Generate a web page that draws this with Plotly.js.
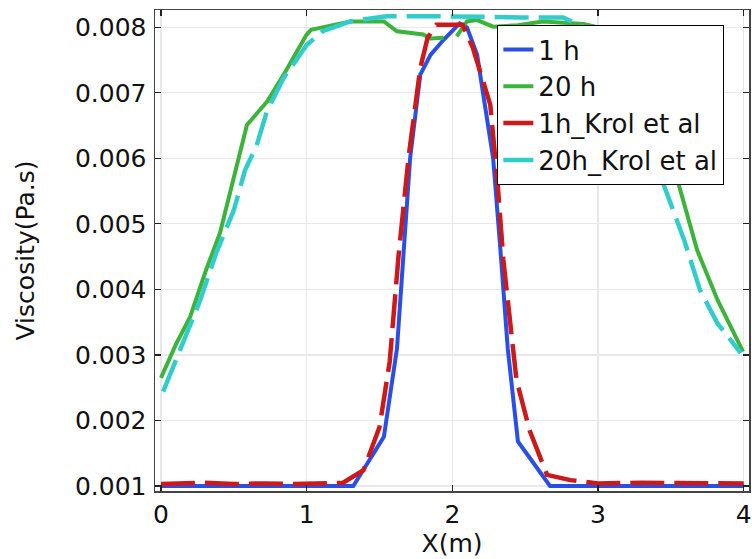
<!DOCTYPE html>
<html>
<head>
<meta charset="utf-8">
<script src="https://cdn.plot.ly/plotly-3.0.1.min.js"></script>
<style>html,body{margin:0;padding:0;background:#fff;}#chart{width:752px;height:559px;}</style>
</head>
<body>
<div id="chart"></div>
<script>
// 1 h (model)
const x1h = [0, 0.5, 1.0, 1.32, 1.53, 1.62, 1.71, 1.78, 1.85, 1.94, 2.05, 2.1, 2.17, 2.28, 2.33, 2.38, 2.45, 2.67, 3.0, 3.5, 4.0];
const y1h = [0.001, 0.001, 0.001, 0.001, 0.00175, 0.0031, 0.0060, 0.00728, 0.00758, 0.00781, 0.00806, 0.0080, 0.00758, 0.0060, 0.0046, 0.0031, 0.00168, 0.001, 0.001, 0.001, 0.001];

// 20 h (model)
const x20h = [0, 0.1, 0.2, 0.31, 0.405, 0.51, 0.59, 0.73, 0.84, 1.0, 1.03, 1.30, 1.53, 1.62, 1.80, 1.85, 1.94, 1.99, 2.03, 2.1, 2.17, 2.28, 2.45, 2.62, 2.9, 3.0, 3.2, 3.4, 3.55, 3.68, 3.82, 3.995];
const y20h = [0.00265, 0.00315, 0.00358, 0.0043, 0.00486, 0.0058, 0.00651, 0.00687, 0.00727, 0.00789, 0.00796, 0.00809, 0.00809, 0.00794, 0.00789, 0.00783, 0.00784, null, 0.00786, 0.00809, 0.00811, 0.00801, 0.00803, 0.00809, 0.00805, 0.0080, 0.0075, 0.0066, 0.00563, 0.0046, 0.00384, 0.00305];

// 1h_Krol et al
const x1hK = [0, 0.1, 0.3, 0.5, 0.7, 0.9, 1.1, 1.25, 1.39, 1.50, 1.57, 1.63, 1.70, 1.78, 1.83, 1.89, 2.07, 2.14, 2.26, 2.31, 2.35, 2.41, 2.44, 2.53, 2.65, 2.81, 3.0, 3.3, 3.6, 4.0];
const y1hK = [0.00103, 0.00104, 0.00105, 0.00103, 0.00104, 0.00103, 0.00104, 0.00105, 0.00124, 0.0019, 0.0029, 0.0045, 0.00603, 0.00738, 0.00784, 0.00804, 0.00804, 0.00769, 0.00682, 0.00563, 0.00445, 0.00323, 0.00262, 0.00185, 0.00117, 0.00109, 0.00104, 0.00105, 0.00104, 0.00104];

// 20h_Krol et al
const x20hK = [0.015, 0.085, 0.153, 0.27, 0.38, 0.50, 0.577, 0.657, 0.726, 0.84, 1.0, 1.11, 1.30, 1.55, 1.8, 2.0, 2.2, 2.47, 2.76, 3.0, 3.16, 3.3, 3.45, 3.59, 3.70, 3.82, 3.98];
const y20hK = [0.00244, 0.00282, 0.00318, 0.00384, 0.00456, 0.00521, 0.00582, 0.0062, 0.00671, 0.00722, 0.00773, 0.00794, 0.00809, 0.00817, 0.00817, 0.00817, 0.00816, 0.00815, 0.00815, 0.0079, 0.0073, 0.0065, 0.00562, 0.00476, 0.00399, 0.00348, 0.00303];

const names = ['1 h', '20 h', '1h_Krol et al', '20h_Krol et al'];
const xTicks = [0, 1, 2, 3, 4];
const yTicks = [0.001, 0.002, 0.003, 0.004, 0.005, 0.006, 0.007, 0.008];

const font = "DejaVu Sans, sans-serif";

const traces = [
  {x: x1h, y: y1h, name: names[0], mode: 'lines', line: {color: '#2a4fe6', width: 4}},
  {x: x20h, y: y20h, name: names[1], mode: 'lines', connectgaps: false, line: {color: '#3cb43c', width: 4}},
  {x: x1hK, y: y1hK, name: names[2], mode: 'lines', line: {color: '#cc1a1a', width: 4.5, dash: '34px,10px'}},
  {x: x20hK, y: y20hK, name: names[3], mode: 'lines', line: {color: '#33cccc', width: 4.5, dash: '34px,10px'}}
];

const axisCommon = {
  showline: true, mirror: 'ticks', linecolor: '#444', linewidth: 1.5,
  ticks: 'inside', ticklen: 6, tickwidth: 1.2, tickcolor: '#222',
  showgrid: true, gridcolor: '#e8e8e8', gridwidth: 1.2, zeroline: false,
  tickfont: {family: font, size: 25, color: '#111'}
};

const layout = {
  width: 752, height: 559,
  margin: {l: 155, r: 3, t: 10, b: 68},
  paper_bgcolor: '#fff', plot_bgcolor: '#fff',
  font: {family: font, color: '#111'},
  showlegend: true,
  legend: {
    x: 0.576, y: 0.969, xanchor: 'left', yanchor: 'top',
    bgcolor: '#fff', bordercolor: '#000', borderwidth: 1.2,
    font: {family: font, size: 26, color: '#111'},
    tracegroupgap: 0, itemwidth: 30
  },
  xaxis: Object.assign({}, axisCommon, {
    range: [-0.041, 4.036], tickvals: xTicks, ticktext: xTicks.map(String),
    ticklabelstandoff: 0,
    title: {text: 'X(m)', font: {family: font, size: 25, color: '#111'}, standoff: 0}
  }),
  yaxis: Object.assign({}, axisCommon, {
    range: [0.000924, 0.008264], tickvals: yTicks, ticktext: yTicks.map(v => v.toFixed(3)),
    ticklabelstandoff: 2,
    title: {text: 'Viscosity(Pa.s)', font: {family: font, size: 25, color: '#111'}, standoff: 33}
  })
};

Plotly.newPlot('chart', traces, layout, {displayModeBar: false, staticPlot: true});
</script>
</body>
</html>
